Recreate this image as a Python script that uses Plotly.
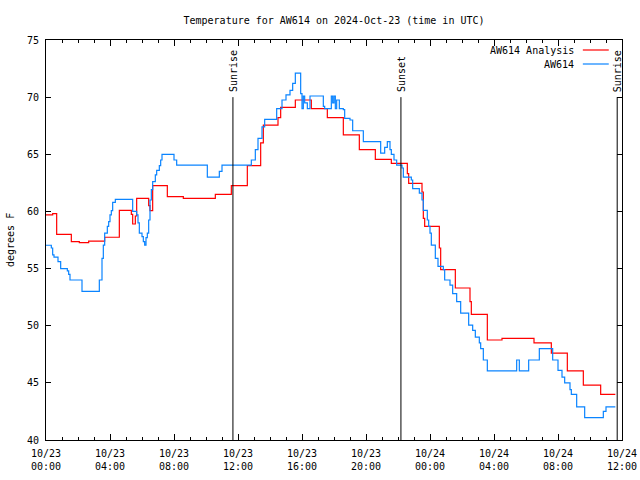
import plotly.graph_objects as go

# ---------------- data ----------------
analysis_time = [
    "2024-10-23 00:00", "2024-10-23 00:25", "2024-10-23 00:40", "2024-10-23 01:35",
    "2024-10-23 02:05", "2024-10-23 02:40", "2024-10-23 03:40", "2024-10-23 04:35",
    "2024-10-23 05:20", "2024-10-23 05:25", "2024-10-23 05:35", "2024-10-23 05:40",
    "2024-10-23 06:25", "2024-10-23 06:30", "2024-10-23 06:40", "2024-10-23 07:35",
    "2024-10-23 08:35", "2024-10-23 10:35", "2024-10-23 11:35", "2024-10-23 12:35",
    "2024-10-23 13:25", "2024-10-23 13:35", "2024-10-23 14:30", "2024-10-23 14:40",
    "2024-10-23 15:35", "2024-10-23 16:35", "2024-10-23 17:35", "2024-10-23 18:35",
    "2024-10-23 19:35", "2024-10-23 20:35", "2024-10-23 21:35", "2024-10-23 22:35",
    "2024-10-23 22:40", "2024-10-23 23:30", "2024-10-23 23:35", "2024-10-23 23:40",
    "2024-10-24 00:35", "2024-10-24 00:40", "2024-10-24 01:35", "2024-10-24 02:30",
    "2024-10-24 02:35", "2024-10-24 03:35", "2024-10-24 04:30", "2024-10-24 06:30",
    "2024-10-24 07:35", "2024-10-24 08:35", "2024-10-24 09:35", "2024-10-24 10:40",
    "2024-10-24 11:35",
]
analysis_temp = [
    59.7, 59.8, 58.0, 57.35,
    57.27, 57.4, 57.74, 60.1,
    59.75, 58.9, 59.6, 61.15,
    60.5, 60.07, 62.25, 61.3,
    61.15, 61.5, 62.25, 64.0,
    66.0, 67.56, 68.2, 69.1,
    69.75, 69.0, 68.2, 66.7,
    65.4, 64.56, 64.2, 63.3,
    62.46, 61.7, 59.4, 58.7,
    56.8, 54.9, 53.3, 52.1,
    51.0, 48.75, 48.9, 48.5,
    47.6, 46.04, 44.8, 44.0,
    44.0,
]

station_time = [
    "2024-10-23 00:00", "2024-10-23 00:20", "2024-10-23 00:25", "2024-10-23 00:30",
    "2024-10-23 00:45", "2024-10-23 00:55", "2024-10-23 01:20", "2024-10-23 01:25",
    "2024-10-23 01:30", "2024-10-23 02:15", "2024-10-23 03:20", "2024-10-23 03:30",
    "2024-10-23 03:35", "2024-10-23 03:40", "2024-10-23 03:50", "2024-10-23 03:55",
    "2024-10-23 04:00", "2024-10-23 04:05", "2024-10-23 04:10", "2024-10-23 04:20",
    "2024-10-23 05:25", "2024-10-23 05:40", "2024-10-23 05:45", "2024-10-23 05:50",
    "2024-10-23 06:00", "2024-10-23 06:05", "2024-10-23 06:10", "2024-10-23 06:15",
    "2024-10-23 06:20", "2024-10-23 06:25", "2024-10-23 06:30", "2024-10-23 06:35",
    "2024-10-23 06:40", "2024-10-23 06:50", "2024-10-23 06:55", "2024-10-23 07:05",
    "2024-10-23 07:10", "2024-10-23 07:15", "2024-10-23 08:00", "2024-10-23 08:10",
    "2024-10-23 10:05", "2024-10-23 10:50", "2024-10-23 11:00", "2024-10-23 12:50",
    "2024-10-23 13:05", "2024-10-23 13:15", "2024-10-23 13:30", "2024-10-23 13:40",
    "2024-10-23 14:25", "2024-10-23 14:45", "2024-10-23 15:00", "2024-10-23 15:15",
    "2024-10-23 15:25", "2024-10-23 15:35", "2024-10-23 15:55", "2024-10-23 16:00",
    "2024-10-23 16:05", "2024-10-23 16:10", "2024-10-23 16:20", "2024-10-23 16:30",
    "2024-10-23 17:20", "2024-10-23 17:25", "2024-10-23 17:50",
    "2024-10-23 17:55", "2024-10-23 18:00", "2024-10-23 18:05", "2024-10-23 18:10",
    "2024-10-23 18:20", "2024-10-23 18:35", "2024-10-23 18:40", "2024-10-23 19:00",
    "2024-10-23 19:10", "2024-10-23 19:50", "2024-10-23 20:55", "2024-10-23 21:10",
    "2024-10-23 21:20", "2024-10-23 21:30", "2024-10-23 21:35", "2024-10-23 21:45",
    "2024-10-23 21:55", "2024-10-23 22:15", "2024-10-23 22:20", "2024-10-23 22:50",
    "2024-10-23 22:55", "2024-10-23 23:20", "2024-10-23 23:30", "2024-10-23 23:35",
    "2024-10-23 23:50", "2024-10-23 23:55", "2024-10-24 00:00", "2024-10-24 00:05",
    "2024-10-24 00:20", "2024-10-24 00:30", "2024-10-24 00:50", "2024-10-24 00:55",
    "2024-10-24 01:15", "2024-10-24 01:25", "2024-10-24 01:40", "2024-10-24 01:55",
    "2024-10-24 02:25", "2024-10-24 02:40", "2024-10-24 02:50", "2024-10-24 03:05",
    "2024-10-24 03:10", "2024-10-24 03:20", "2024-10-24 03:35", "2024-10-24 05:25",
    "2024-10-24 05:35", "2024-10-24 06:10", "2024-10-24 06:50", "2024-10-24 07:40",
    "2024-10-24 08:00", "2024-10-24 08:15", "2024-10-24 08:25", "2024-10-24 08:45",
    "2024-10-24 08:50", "2024-10-24 09:10", "2024-10-24 09:40", "2024-10-24 10:50",
    "2024-10-24 11:00", "2024-10-24 11:35",
]
station_temp = [
    57.04, 56.8, 56.2, 56.0,
    55.6, 55.0, 54.8, 54.5,
    54.0, 53.0, 54.0, 55.9,
    57.06, 58.1, 58.7, 59.1,
    59.7, 60.07, 60.8, 61.06,
    60.0, 59.7, 59.0, 58.1,
    57.8, 57.35, 57.06, 57.7,
    58.1, 59.25, 61.0, 61.9,
    62.6, 63.2, 63.6, 64.0,
    64.5, 65.0, 64.5, 64.06,
    63.0, 63.5, 64.06, 64.5,
    65.4, 66.4, 67.4, 68.06,
    69.0, 69.75, 70.2, 70.6,
    71.2, 72.1, 70.3, 69.0,
    70.1, 69.5, 69.0, 70.1,
    69.2, 69.0, 70.1,
    69.5, 70.1, 69.0, 69.75,
    69.0, 68.9, 68.15, 68.0,
    67.06, 66.1, 65.1, 65.6,
    66.1, 65.4, 65.0, 64.5,
    64.06, 63.8, 63.0, 62.75,
    62.0, 61.6, 61.0, 60.1,
    59.25, 58.7, 58.1, 57.06,
    55.9, 55.2, 54.9, 54.0,
    53.56, 52.8, 52.1, 51.1,
    50.06, 49.6, 49.0, 48.5,
    48.0, 47.0, 46.04, 47.0,
    46.04, 47.0, 48.0, 47.0,
    46.1, 45.5, 45.0, 44.4,
    44.0, 42.9, 41.96, 42.5,
    42.9, 42.9,
]

sun_events = ["Sunrise", "Sunset", "Sunrise"]
sun_times = ["2024-10-23 11:41", "2024-10-23 22:11", "2024-10-24 11:42"]

tick_vals = ["2024-10-23 00:00", "2024-10-23 04:00", "2024-10-23 08:00", "2024-10-23 12:00",
             "2024-10-23 16:00", "2024-10-23 20:00", "2024-10-24 00:00", "2024-10-24 04:00",
             "2024-10-24 08:00", "2024-10-24 12:00"]
tick_text = ["10/23<br>00:00", "10/23<br>04:00", "10/23<br>08:00", "10/23<br>12:00",
             "10/23<br>16:00", "10/23<br>20:00", "10/24<br>00:00", "10/24<br>04:00",
             "10/24<br>08:00", "10/24<br>12:00"]

legend_names = ["AW614 Analysis", "AW614"]
RED = "#ff0000"
BLUE = "#0a84ff"
FONT = "DejaVu Sans Mono"

# ---------------- figure ----------------
fig = go.Figure()
fig.add_trace(go.Scatter(x=analysis_time, y=analysis_temp, mode="lines",
                         line=dict(color=RED, width=1.2, shape="hv"),
                         name=legend_names[0], showlegend=False))
fig.add_trace(go.Scatter(x=station_time, y=station_temp, mode="lines",
                         line=dict(color=BLUE, width=1.2, shape="hv"),
                         name=legend_names[1], showlegend=False))

for ev, t in zip(sun_events, sun_times):
    fig.add_shape(type="line", xref="x", yref="y", x0=t, x1=t, y0=40, y1=70,
                  line=dict(color="black", width=1))
    fig.add_annotation(x=t, y=70, xref="x", yref="y", text=ev, textangle=-90,
                       showarrow=False, xanchor="center", yanchor="bottom", yshift=3,
                       font=dict(family=FONT, size=10, color="black"))

# manual gnuplot-style legend (text right, sample line after)
for i, (name, col) in enumerate(zip(legend_names, [RED, BLUE])):
    yp = 0.975 - i * 0.035
    fig.add_annotation(x=0.92, y=yp, xref="paper", yref="paper", text=name,
                       showarrow=False, xanchor="right", yanchor="middle",
                       font=dict(family=FONT, size=10, color="black"))
    fig.add_shape(type="line", xref="paper", yref="paper", x0=0.932, x1=0.977,
                  y0=yp, y1=yp, line=dict(color=col, width=1.2))

fig.add_annotation(x=-0.0625, y=0.5, xref="paper", yref="paper", text="degrees F",
                   textangle=-90, showarrow=False, xanchor="center", yanchor="middle",
                   font=dict(family=FONT, size=10, color="black"))

fig.update_layout(
    width=640, height=480,
    margin=dict(l=46, r=18, t=40, b=40, autoexpand=False),
    paper_bgcolor="white", plot_bgcolor="white",
    font=dict(family=FONT, size=10, color="black"),
    title=dict(text="Temperature for AW614 on 2024-Oct-23 (time in UTC)",
               x=0.5, xref="paper", xanchor="center", y=1 - 20 / 480, yanchor="middle",
               font=dict(family=FONT, size=10, color="black")),
    showlegend=False,
)
fig.update_xaxes(
    type="date", range=["2024-10-23 00:00", "2024-10-24 12:00"],
    tickmode="array", tickvals=tick_vals, ticktext=tick_text,
    ticks="inside", ticklen=6, tickcolor="black", tickwidth=1,
    minor=dict(ticks="inside", ticklen=3, dtick=3600000, tickcolor="black", showgrid=False),
    showline=True, linecolor="black", linewidth=1, mirror="ticks",
    showgrid=False, zeroline=False, ticklabelstandoff=4, automargin=False,
    tickfont=dict(family=FONT, size=10, color="black"),
)
fig.update_yaxes(
    range=[40, 75], dtick=5, tick0=40,
    ticks="inside", ticklen=5, tickcolor="black", tickwidth=1,
    showline=True, linecolor="black", linewidth=1, mirror="ticks",
    showgrid=False, zeroline=False, ticklabelstandoff=4, automargin=False,
    tickfont=dict(family=FONT, size=10, color="black"),
)

fig.write_html("out.html",
               config={"displayModeBar": False},
               post_script="document.body.style.margin='0px';document.body.style.overflow='hidden';")
